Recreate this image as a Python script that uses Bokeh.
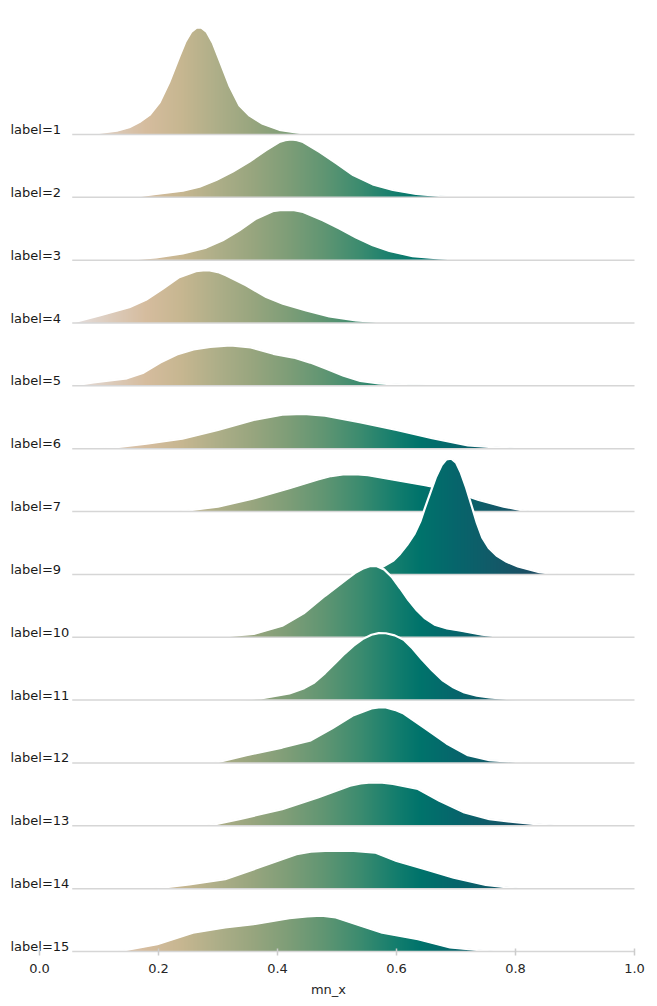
import numpy as np
from bokeh.plotting import figure
from bokeh.models import Range1d, FixedTicker, PrintfTickFormatter
from bokeh.core.properties import value
from bokeh.embed import file_html
from bokeh.resources import INLINE

# one ridge per label, top to bottom (there is no label=8)
labels = [1, 2, 3, 4, 5, 6, 7, 9, 10, 11, 12, 13, 14, 15]

# density of mn_x per label
# x = mn_x, h = curve height (1.0 = distance between two ridges)
x_1 = [0.056, 0.10, 0.13, 0.151, 0.168, 0.185, 0.202, 0.218, 0.235, 0.245, 0.255, 0.264, 0.272, 0.281,
       0.291, 0.303, 0.319, 0.336, 0.353, 0.375, 0.403, 0.431, 0.459]
h_1 = [0.0, 0.025, 0.06, 0.116, 0.196, 0.31, 0.51, 0.83, 1.24, 1.47, 1.63, 1.70, 1.70, 1.63,
       1.46, 1.17, 0.78, 0.46, 0.30, 0.17, 0.074, 0.032, 0.0]

x_2 = [0.151, 0.196, 0.241, 0.269, 0.297, 0.325, 0.353, 0.381, 0.403, 0.413, 0.423, 0.433, 0.443, 0.471,
       0.499, 0.527, 0.560, 0.594, 0.633, 0.672, 0.723]
h_2 = [0.0, 0.053, 0.106, 0.17, 0.275, 0.41, 0.57, 0.75, 0.88, 0.91, 0.92, 0.91, 0.88, 0.72,
       0.54, 0.355, 0.206, 0.116, 0.053, 0.021, 0.0]

x_3 = [0.140, 0.196, 0.241, 0.280, 0.308, 0.336, 0.364, 0.392, 0.404, 0.415, 0.428, 0.443, 0.476, 0.504,
       0.532, 0.560, 0.588, 0.627, 0.672, 0.723]
h_3 = [0.0, 0.042, 0.106, 0.20, 0.317, 0.476, 0.66, 0.78, 0.795, 0.80, 0.795, 0.767, 0.635, 0.503,
       0.36, 0.238, 0.148, 0.063, 0.026, 0.0]

x_4 = [0.053, 0.101, 0.151, 0.179, 0.207, 0.235, 0.263, 0.275, 0.286, 0.300, 0.314, 0.347, 0.381, 0.409,
       0.448, 0.487, 0.532, 0.577, 0.644]
h_4 = [0.0, 0.12, 0.25, 0.37, 0.545, 0.73, 0.825, 0.835, 0.836, 0.81, 0.757, 0.60, 0.413, 0.307,
       0.20, 0.106, 0.042, 0.011, 0.0]

x_5 = [0.052, 0.091, 0.147, 0.175, 0.203, 0.231, 0.259, 0.287, 0.321, 0.355, 0.393, 0.427, 0.455, 0.483,
       0.511, 0.539, 0.570, 0.618, 0.648]
h_5 = [0.0, 0.053, 0.12, 0.21, 0.37, 0.50, 0.58, 0.62, 0.645, 0.61, 0.51, 0.45, 0.37, 0.27,
       0.16, 0.08, 0.04, 0.01, 0.0]

x_6 = [0.108, 0.180, 0.240, 0.300, 0.360, 0.408, 0.444, 0.480, 0.540, 0.600, 0.660, 0.720, 0.798]
h_6 = [0.0, 0.079, 0.158, 0.30, 0.458, 0.542, 0.553, 0.526, 0.42, 0.30, 0.168, 0.053, 0.0]

x_7 = [0.234, 0.300, 0.360, 0.420, 0.468, 0.490, 0.510, 0.530, 0.552, 0.600, 0.648, 0.690, 0.738,
       0.780, 0.822]
h_7 = [0.0, 0.079, 0.21, 0.37, 0.51, 0.565, 0.59, 0.595, 0.58, 0.50, 0.42, 0.34, 0.184,
       0.079, 0.0]

x_9 = [0.498, 0.540, 0.576, 0.595, 0.606, 0.618, 0.630, 0.640, 0.648, 0.657, 0.666, 0.676, 0.684, 0.692,
       0.700, 0.708, 0.717, 0.726, 0.735, 0.744, 0.755, 0.768, 0.785, 0.804, 0.840, 0.870]
h_9 = [0.0, 0.037, 0.116, 0.22, 0.326, 0.47, 0.64, 0.84, 1.063, 1.30, 1.54, 1.74, 1.83, 1.84,
       1.78, 1.62, 1.38, 1.10, 0.82, 0.59, 0.42, 0.30, 0.20, 0.126, 0.037, 0.0]

x_10 = [0.294, 0.360, 0.408, 0.444, 0.480, 0.516, 0.530, 0.543, 0.555, 0.567, 0.579, 0.592, 0.606, 0.620,
        0.634, 0.648, 0.664, 0.685, 0.708, 0.744, 0.780]
h_10 = [0.0, 0.053, 0.184, 0.38, 0.66, 0.92, 1.02, 1.09, 1.13, 1.13, 1.08, 0.96, 0.78, 0.59,
        0.43, 0.30, 0.20, 0.14, 0.105, 0.042, 0.0]

x_11 = [0.318, 0.372, 0.420, 0.445, 0.462, 0.480, 0.498, 0.513, 0.528, 0.543, 0.558, 0.570, 0.582, 0.597,
        0.612, 0.627, 0.642, 0.660, 0.678, 0.696, 0.714, 0.735, 0.756, 0.790, 0.828]
h_11 = [0.0, 0.027, 0.106, 0.19, 0.28, 0.43, 0.60, 0.74, 0.867, 0.97, 1.04, 1.065, 1.064, 1.03,
        0.96, 0.82, 0.654, 0.47, 0.31, 0.20, 0.122, 0.07, 0.043, 0.015, 0.0]

x_12 = [0.294, 0.348, 0.408, 0.456, 0.492, 0.528, 0.558, 0.570, 0.582, 0.597, 0.612, 0.648, 0.684, 0.720,
        0.756, 0.828]
h_12 = [0.0, 0.122, 0.245, 0.36, 0.55, 0.76, 0.867, 0.882, 0.883, 0.845, 0.787, 0.55, 0.31, 0.122,
        0.043, 0.0]

x_13 = [0.282, 0.336, 0.408, 0.468, 0.522, 0.540, 0.558, 0.576, 0.594, 0.636, 0.672, 0.714, 0.756, 0.804,
        0.864]
h_13 = [0.0, 0.106, 0.266, 0.452, 0.638, 0.675, 0.69, 0.685, 0.665, 0.585, 0.40, 0.213, 0.106, 0.053,
        0.0]

x_14 = [0.192, 0.252, 0.312, 0.384, 0.432, 0.456, 0.480, 0.528, 0.564, 0.600, 0.648, 0.696, 0.750, 0.804]
h_14 = [0.0, 0.069, 0.149, 0.388, 0.548, 0.59, 0.60, 0.60, 0.574, 0.44, 0.31, 0.176, 0.059, 0.0]

x_15 = [0.132, 0.198, 0.258, 0.312, 0.360, 0.420, 0.450, 0.474, 0.498, 0.540, 0.576, 0.636, 0.690, 0.762]
h_15 = [0.0, 0.117, 0.30, 0.383, 0.436, 0.53, 0.56, 0.57, 0.543, 0.41, 0.30, 0.197, 0.064, 0.0]

curves = {
    1: (x_1, h_1), 2: (x_2, h_2), 3: (x_3, h_3), 4: (x_4, h_4),
    5: (x_5, h_5), 6: (x_6, h_6), 7: (x_7, h_7), 9: (x_9, h_9),
    10: (x_10, h_10), 11: (x_11, h_11), 12: (x_12, h_12),
    13: (x_13, h_13), 14: (x_14, h_14), 15: (x_15, h_15),
}

tick_values = [0.0, 0.2, 0.4, 0.6, 0.8, 1.0]

# colour ramp along mn_x
cmap_x = [0.05, 0.12, 0.18, 0.24, 0.30, 0.36, 0.42, 0.48, 0.54, 0.60, 0.64, 0.70, 0.76, 0.82, 0.88]
cmap_hex = ["#e6e1e3", "#dccbbb", "#d5bc9e", "#c6b690", "#adae88", "#97a57e", "#7d9d77",
            "#5f9572", "#3b8b6f", "#137d6d", "#00736b", "#06656b", "#115a68", "#1b4f64", "#24455f"]

cmap_rgb = np.array([[int(c[i:i + 2], 16) for i in (1, 3, 5)] for c in cmap_hex], dtype=float)

PX_PER_X = 595.0    # pixels per unit of mn_x
PX_PER_ROW = 62.85  # pixels between two ridges
FRAME_W, FRAME_H = 640, 947
X0 = -31 / PX_PER_X
Y0 = -4 / PX_PER_ROW
BASE_START = 0.055  # left end of the grey baselines

p = figure(frame_width=FRAME_W, frame_height=FRAME_H,
           x_range=Range1d(X0, X0 + FRAME_W / PX_PER_X),
           y_range=Range1d(Y0, Y0 + FRAME_H / PX_PER_ROW),
           output_backend="svg", toolbar_location=None, y_axis_location=None,
           min_border_left=8, min_border_right=0, min_border_top=8)
p.outline_line_color = None
p.grid.visible = False


def ridge_image(xs, hs):
    # gradient filled area under one curve, one image pixel per screen pixel,
    # with the top pixel partly transparent so the edge stays smooth
    i0 = int(np.floor((xs[0] - X0) * PX_PER_X))
    i1 = int(np.ceil((xs[-1] - X0) * PX_PER_X))
    cx = X0 + (np.arange(i0, i1) + 0.5) / PX_PER_X
    top = np.interp(cx, xs, hs, left=0, right=0) * PX_PER_ROW
    ny = int(np.ceil(top.max())) + 1
    rows = np.arange(ny)[:, None]
    alpha = np.clip(top[None, :] - rows, 0, 1)
    img = np.zeros((ny, i1 - i0), dtype=np.uint32)
    view = img.view(dtype=np.uint8).reshape((ny, i1 - i0, 4))
    for k in range(3):
        view[:, :, k] = np.round(np.interp(cx, cmap_x, cmap_rgb[:, k]))[None, :]
    view[:, :, 3] = np.round(alpha * 255)
    return img, X0 + i0 / PX_PER_X, (i1 - i0) / PX_PER_X, ny / PX_PER_ROW


n = len(labels)
for i, lab in enumerate(labels):
    base = n - 1 - i
    xs, hs = curves[lab]
    img, ix, dw, dh = ridge_image(xs, hs)
    p.image_rgba(image=[img], x=ix, y=base, dw=dw, dh=dh)
    p.line(list(xs), [base + h for h in hs], line_color="white", line_width=2.2)
    p.line([BASE_START, 1.0], [base, base], line_color="#d6d6d6", line_width=1.5)

p.text(x=[-29 / PX_PER_X] * n, y=[n - 1 - i - 2.5 / PX_PER_ROW for i in range(n)],
       text=["label=%d" % lab for lab in labels],
       text_font=value("DejaVu Sans"), text_font_size="13px",
       text_baseline="bottom", text_align="left", text_color="#1a1a1a")

ax = p.xaxis[0]
ax.ticker = FixedTicker(ticks=tick_values)
ax.formatter = PrintfTickFormatter(format="%.1f")
ax.axis_line_color = None
ax.major_tick_line_color = "#cccccc"
ax.major_tick_line_width = 1.5
ax.major_tick_in = 7
ax.major_tick_out = 0
ax.minor_tick_line_color = None
ax.major_label_standoff = 8
ax.major_label_text_font = "DejaVu Sans"
ax.major_label_text_font_size = "13px"
ax.major_label_text_color = "#262626"
ax.axis_label = "mn_x"
ax.axis_label_standoff = 6
ax.axis_label_text_font = "DejaVu Sans"
ax.axis_label_text_font_size = "13px"
ax.axis_label_text_font_style = "normal"
ax.axis_label_text_color = "#262626"

open("out.html", "w").write(file_html(p, INLINE))
